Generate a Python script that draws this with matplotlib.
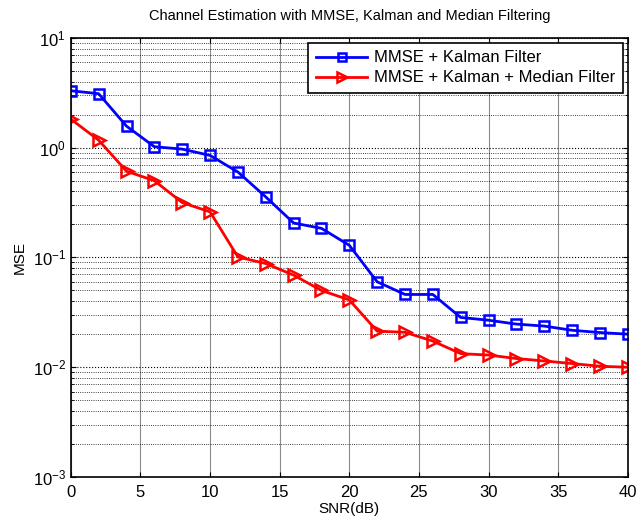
import numpy as np
import matplotlib
matplotlib.use("Agg")
import matplotlib.pyplot as plt

plt.rcParams['font.family'] = ['Liberation Sans', 'DejaVu Sans']

snr = [0, 2, 4, 6, 8, 10, 12, 14, 16, 18, 20, 22, 24, 26, 28, 30, 32, 34, 36, 38, 40]
mse_kalman = [3.3, 3.1, 1.57, 1.02, 0.97, 0.85, 0.60, 0.356, 0.206, 0.184, 0.129,
              0.060, 0.046, 0.046, 0.0284, 0.0268, 0.0247, 0.0237, 0.0217, 0.0207, 0.020]
mse_median = [1.82, 1.17, 0.61, 0.50, 0.316, 0.26, 0.101, 0.088, 0.069, 0.050, 0.041,
              0.0213, 0.0208, 0.0173, 0.0133, 0.0129, 0.012, 0.0114, 0.0108, 0.0102, 0.0100]

fig = plt.figure(figsize=(6.38, 5.24), dpi=100)
ax = fig.add_axes([0.111, 0.0897, 0.873, 0.838])

ax.semilogy(snr, mse_kalman, color='blue', marker='s', markerfacecolor='none',
            markersize=7, markeredgewidth=1.8, linewidth=2, label='MMSE + Kalman Filter')
ax.semilogy(snr, mse_median, color='red', marker='>', markerfacecolor='none',
            markersize=9, markeredgewidth=1.8, linewidth=2, label='MMSE + Kalman + Median Filter')

ax.set_xlim(0, 40)
ax.set_ylim(1e-3, 1e1)
ax.set_xticks(range(0, 41, 5))
ax.grid(True, which='major', axis='x', linestyle='-', color='0.55', linewidth=0.8)
ax.grid(True, which='major', axis='y', linestyle=':', color='black', linewidth=0.8)
ax.grid(True, which='minor', axis='y', linestyle=':', color='black', linewidth=0.6)
ax.tick_params(which='both', direction='in', top=True, right=True, labelsize=12)
ax.tick_params(axis='x', pad=6)
for s in ax.spines.values():
    s.set_linewidth(1.2)

ax.set_title('Channel Estimation with MMSE, Kalman and Median Filtering', fontsize=10.5, pad=13)
ax.set_xlabel('SNR(dB)', fontsize=11, labelpad=1)
ax.set_ylabel('MSE', fontsize=11)
leg = ax.legend(loc='upper right', fontsize=12, fancybox=False, framealpha=1,
                edgecolor='black', borderaxespad=0.3, handlelength=3.1,
                handletextpad=0.4, markerscale=0.8, borderpad=0.45, labelspacing=0.3)
leg.get_frame().set_linewidth(1.2)

fig.savefig('out.png', dpi=100)
